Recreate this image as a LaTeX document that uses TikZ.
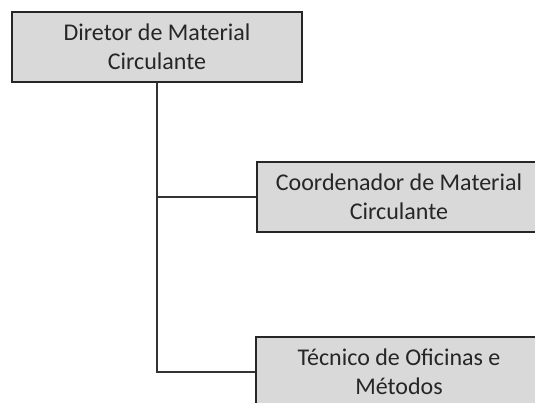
\documentclass[tikz,border=0pt]{standalone}
\usepackage{fontspec}
\setmainfont{Carlito}
\usetikzlibrary{positioning}

\tikzset{
  cargo/.style={draw=black!85,line width=1.6pt,fill=black!15,minimum height=70pt,
    align=center,inner sep=0pt,font=\fontsize{24}{29}\selectfont,text=black!85},
  liga/.style={line width=1.6pt,draw=black!80}
}

\begin{document}
\begin{tikzpicture}[x=1pt,y=-1pt]
  \useasboundingbox (0,0) rectangle (535,403);
  \clip (0,0) rectangle (535,403);
  % chefia
  \node[cargo,minimum width=290pt] (dir) at (157,47) {Diretor de Material\\Circulante};
  % subordinados
  \node[cargo,minimum width=284pt] (coord) at (399,197) {Coordenador de Material\\Circulante};
  \node[cargo,minimum width=286pt] (tec) at (399,372) {Técnico de Oficinas e\\Métodos};
  \draw[liga] (dir.south) |- (coord.west);
  \draw[liga] (dir.south) |- (tec.west);
\end{tikzpicture}
\end{document}
